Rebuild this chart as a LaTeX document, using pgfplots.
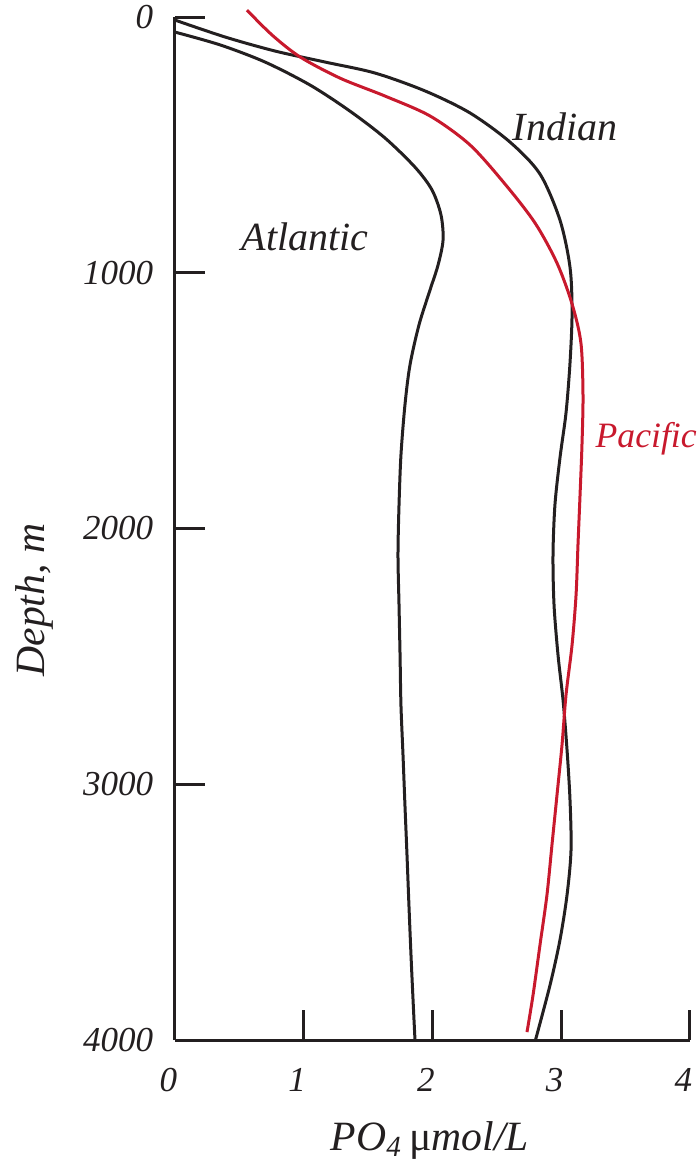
\documentclass[border=0pt]{standalone}
\usepackage{pgfplots}
\pgfplotsset{compat=1.18}
\usepackage{fontspec}
\setmainfont{Liberation Serif}
\definecolor{ink}{RGB}{35,31,32}
\definecolor{pacred}{RGB}{200,25,45}

% Phosphate profiles (x: PO4 umol/L, y: depth m)
\pgfplotstableread{
x d
0.000 59
0.350 109
0.699 176
1.049 266
1.359 368
1.631 473
1.864 587
1.996 676
2.066 774
2.082 872
2.043 970
1.981 1067
1.895 1204
1.825 1361
1.786 1517
1.755 1713
1.740 1908
1.732 2104
1.740 2299
1.748 2495
1.755 2690
1.771 2886
1.786 3081
1.802 3277
1.817 3472
1.833 3668
1.849 3844
1.864 4000
}\atlantic
\pgfplotstableread{
x d
0.000 12
0.388 78
0.777 133
1.165 176
1.553 219
1.942 289
2.291 375
2.602 489
2.835 614
2.990 794
3.068 978
3.084 1157
3.068 1353
3.037 1548
2.990 1724
2.951 1908
2.936 2104
2.944 2299
2.975 2495
3.014 2671
3.045 2866
3.068 3061
3.076 3257
3.045 3433
2.990 3609
2.913 3785
2.800 4000
}\indian
\pgfplotstableread{
x d
0.559 -27
0.753 70
0.971 156
1.282 239
1.631 309
1.981 387
2.291 500
2.563 653
2.796 805
2.967 962
3.084 1122
3.153 1275
3.169 1478
3.161 1673
3.146 1869
3.130 2064
3.115 2260
3.084 2455
3.037 2651
3.006 2846
2.967 3042
2.928 3237
2.889 3433
2.835 3628
2.781 3824
2.734 3969
}\pacific

\begin{document}
\begin{tikzpicture}
\begin{axis}[
  scale only axis,
  width=154.5pt, height=306.9pt,
  xmin=0, xmax=4, ymin=0, ymax=4000,
  y dir=reverse,
  clip=false,
  axis x line=bottom, axis y line=left,
  axis line style={-, line width=0.9pt, color=ink},
  tick align=inside,
  major tick length=9pt,
  every tick/.style={line width=0.9pt, color=ink},
  xtick={0,1,2,3,4},
  ytick={0,1000,2000,3000,4000},
  /pgf/number format/assume math mode=true,
  /pgf/number format/set thousands separator={},
  ticklabel style={font=\fontsize{10.5}{12}\selectfont\itshape, color=ink},
  xticklabel style={yshift=-5pt, xshift=-2pt},
  yticklabel style={xshift=-3pt},
  xlabel={PO\textsubscript{4}\,{\upshape μ}mol/L},
  ylabel={Depth, m},
  label style={font=\fontsize{12.5}{14}\selectfont\itshape, color=ink},
  xlabel style={at={(axis description cs:0.495,-0.098)}, anchor=center},
  ylabel style={at={(axis description cs:-0.272,0.43)}, anchor=center, rotate=0},
]
\addplot[ink, line width=0.9pt, smooth, no markers] table[x=x, y=d] {\atlantic};
\addplot[ink, line width=0.9pt, smooth, no markers] table[x=x, y=d] {\indian};
\addplot[pacred, line width=0.9pt, smooth, no markers] table[x=x, y=d] {\pacific};

\node[font=\fontsize{12}{14}\selectfont\itshape, color=ink] at (axis cs:1.01,860) {Atlantic};
\node[font=\fontsize{12}{14}\selectfont\itshape, color=ink] at (axis cs:3.03,430) {Indian};
\node[font=\fontsize{10.7}{12}\selectfont\itshape, color=pacred, anchor=west, inner sep=0pt] at (axis cs:3.262,1650) {Pacific};

\coordinate (bbl) at (rel axis cs:-0.3398,-0.13294);
\coordinate (btr) at (rel axis cs:1.01553,1.01662);
\end{axis}
\pgfresetboundingbox
\path[use as bounding box] (bbl) rectangle (btr);
\end{tikzpicture}
\end{document}
